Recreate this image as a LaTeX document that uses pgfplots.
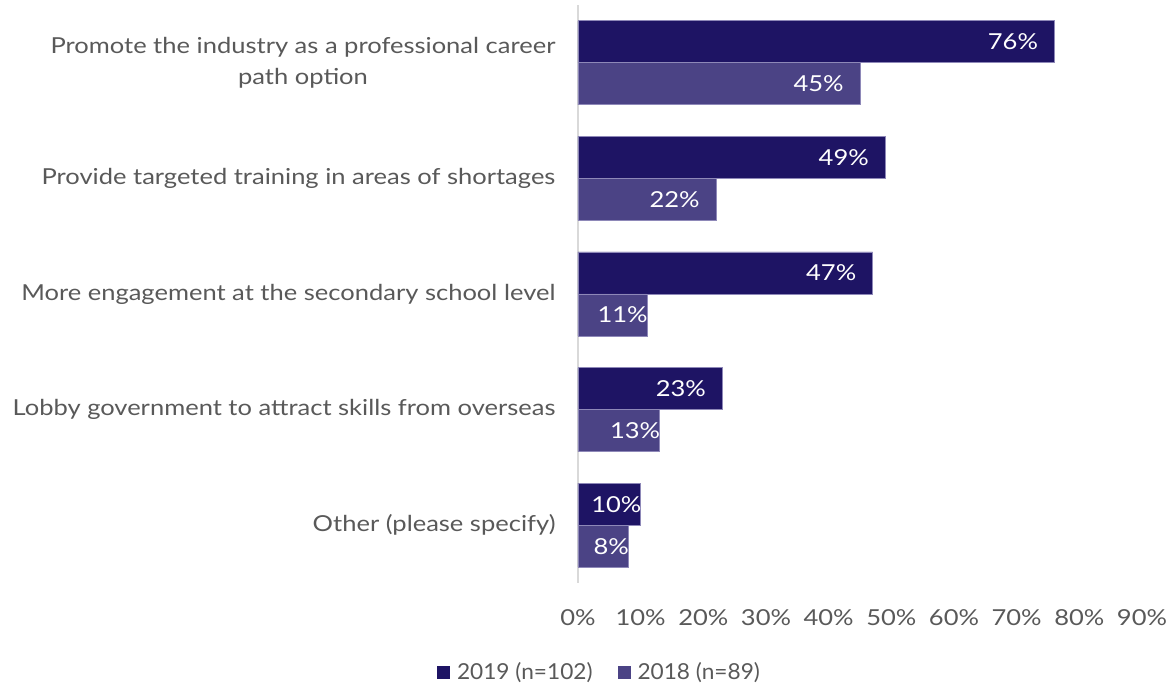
\documentclass[border=0pt]{standalone}
\usepackage{pgfplots}
\pgfplotsset{compat=1.18}
\usepackage{fontspec}
\setmainfont{Lato}
\newfontfamily\wide{Lato}[FakeStretch=1.16]
\newfontfamily\legfont{Lato}[FakeStretch=1.03]
\definecolor{c2019}{HTML}{1E1464}
\definecolor{c2018}{HTML}{4B4385}
\definecolor{txt}{HTML}{595959}
\definecolor{axl}{HTML}{D9D9D9}
\definecolor{edge}{HTML}{8E88B8}
\begin{document}
\begin{tikzpicture}[x=1pt,y=1pt]
\path[use as bounding box] (0,0) rectangle (1176,688);
\begin{axis}[
  at={(578pt,105pt)}, anchor=south west,
  scale only axis, width=564pt, height=578pt,
  xmin=0, xmax=90, ymin=-0.5, ymax=4.5,
  xbar, bar width=42pt,
  axis lines*=left,
  x axis line style={draw=none},
  y axis line style={axl, line width=1.2pt},
  tick style={draw=none},
  major tick length=0pt,
  xtick={0,10,...,90},
  xticklabel={\pgfmathprintnumber{\tick}\%},
  /pgf/number format/assume math mode=true,
  xticklabel style={anchor=center, yshift=-35pt, text=txt, font=\wide\fontsize{22}{26}\selectfont},
  ytick={0,1,2,3,4},
  yticklabels={Other (please specify), Lobby government to attract skills from overseas, More engagement at the secondary school level, Provide targeted training in areas of shortages, {Promote the industry as a professional career\\path option}},
  yticklabel style={align=center, anchor=east, xshift=-19pt, text=txt, font=\wide\fontsize{22}{31}\selectfont},
  visualization depends on={rawx \as \rx},
  point meta=x,
  nodes near coords={\pgfmathprintnumber{\pgfplotspointmeta}\%},
  nodes near coords style={anchor=east, inner sep=0pt, text=white, font=\wide\fontsize{22}{26}\selectfont,
     xshift={(\rx<15 ? 1 : -16)*1pt}},
  legend style={at={(0.039,-0.154)}, anchor=center, draw=none, fill=none,
     legend columns=2, text=txt, font=\legfont\fontsize{22}{26}\selectfont,
     /tikz/every odd column/.append style={column sep=4pt},
     /tikz/every even column/.append style={column sep=22pt},
     nodes={inner sep=3pt}},
  legend image code/.code={\fill[#1,draw=none] (0pt,-6.5pt) rectangle (13pt,6.5pt);},
  legend cell align=left,
  clip=false,
]
\addplot[fill=c2019, draw=edge, line width=0.6pt, bar shift=21pt] coordinates {(76,4) (49,3) (47,2) (23,1) (10,0)};
\addplot[fill=c2018, draw=edge, line width=0.6pt, bar shift=-21pt] coordinates {(45,4) (22,3) (11,2) (13,1) (8,0)};
\legend{2019 (n=102), 2018 (n=89)}
\end{axis}
\end{tikzpicture}
\end{document}
